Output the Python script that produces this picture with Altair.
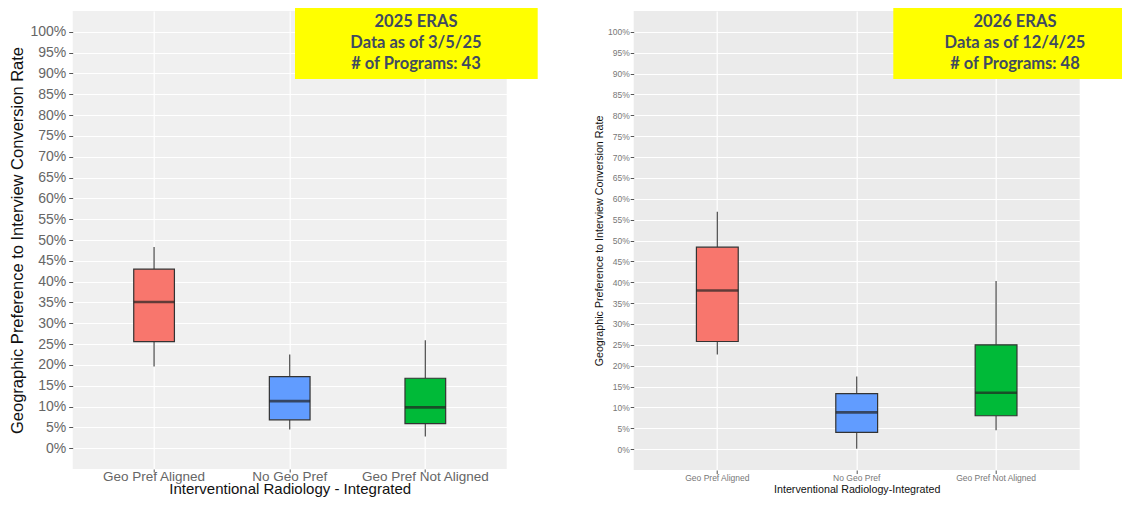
import altair as alt
import pandas as pd

categories = ["Geo Pref Aligned", "No Geo Pref", "Geo Pref Not Aligned"]
box_colors = ["#F8766D", "#619CFF", "#00BA38"]

# 2025 ERAS (left panel)
lo_2025 = [0.196, 0.045, 0.028]
q1_2025 = [0.256, 0.068, 0.059]
med_2025 = [0.351, 0.113, 0.098]
q3_2025 = [0.430, 0.172, 0.168]
hi_2025 = [0.483, 0.225, 0.259]
note_2025 = ["2025 ERAS", "Data as of 3/5/25", "# of Programs: 43"]

# 2026 ERAS (right panel)
lo_2026 = [0.227, 0.001, 0.045]
q1_2026 = [0.258, 0.040, 0.080]
med_2026 = [0.380, 0.088, 0.135]
q3_2026 = [0.484, 0.133, 0.250]
hi_2026 = [0.569, 0.174, 0.403]
note_2026 = ["2026 ERAS", "Data as of 12/4/25", "# of Programs: 48"]

y_ticks = [0.0, 0.05, 0.10, 0.15, 0.20, 0.25, 0.30, 0.35, 0.40, 0.45, 0.50,
           0.55, 0.60, 0.65, 0.70, 0.75, 0.80, 0.85, 0.90, 0.95, 1.0]

y_title = "Geographic Preference to Interview Conversion Rate"
FONT = "Liberation Sans"


def panel(lo, q1, med, q3, hi, note, x_title, w, h, bg,
          lab_fs, x_lab_fs, ttl_fs, x_ttl_fs, lab_color, y_lab_pad, y_ttl_pad,
          x_lab_pad, x_ttl_pad, y_tick, x_tick,
          box_x, box_x2, box_y, box_y2, note_x, note_y, note_fs, note_lh):
    df = pd.DataFrame({"cat": categories, "lo": lo, "q1": q1, "med": med,
                       "q3": q3, "hi": hi})
    xaxis = alt.Axis(title=x_title, labelAngle=0, bandPosition=0.5,
                     grid=True, gridColor="white", gridWidth=1.2,
                     domain=False, tickSize=x_tick, tickColor="#555",
                     labelFontSize=x_lab_fs, labelColor=lab_color, labelFont=FONT,
                     labelPadding=x_lab_pad, titleFont=FONT, titleFontSize=x_ttl_fs,
                     titleFontWeight="normal", titleColor="#111",
                     titlePadding=x_ttl_pad)
    xenc = alt.X("cat:N", sort=categories,
                 scale=alt.Scale(domain=categories, paddingInner=0, paddingOuter=0.1),
                 axis=xaxis)
    yscale = alt.Scale(domain=[-0.05, 1.05], nice=False, zero=False)
    yaxis = alt.Axis(values=y_ticks, format=".0%", title=y_title, labelOverlap=False,
                     grid=True, gridColor="white", gridWidth=1.2, domain=False,
                     tickSize=y_tick, tickColor="#555", labelPadding=y_lab_pad,
                     labelFontSize=lab_fs, labelColor=lab_color, labelFont=FONT,
                     titleFont=FONT, titleFontSize=ttl_fs, titleFontWeight="normal",
                     titleColor="#111", titlePadding=y_ttl_pad)
    base = alt.Chart(df)
    whisk_lo = base.mark_rule(color="#555", strokeWidth=1.3).encode(
        x=xenc, y=alt.Y("lo:Q", scale=yscale, axis=yaxis, title=y_title), y2="q1:Q")
    whisk_hi = base.mark_rule(color="#555", strokeWidth=1.3).encode(
        x=xenc, y=alt.Y("q3:Q", scale=yscale, axis=yaxis, title=y_title), y2="hi:Q")
    box = base.mark_bar(width=alt.RelativeBandSize(0.3), stroke="#333",
                        strokeWidth=1.2).encode(
        x=xenc, y=alt.Y("q1:Q", scale=yscale, axis=yaxis, title=y_title), y2="q3:Q",
        color=alt.Color("cat:N", scale=alt.Scale(domain=categories, range=box_colors),
                        legend=None))
    median = base.mark_tick(size=w * 0.3 / 3.2, thickness=2.6, color="#222").encode(
        x=xenc, y=alt.Y("med:Q", scale=yscale, axis=yaxis, title=y_title))
    one = alt.Chart(pd.DataFrame({"k": [0]}))
    note_box = one.mark_rect(color="#FFFF00").encode(
        x=alt.value(box_x), x2=alt.value(box_x2), y=alt.value(box_y), y2=alt.value(box_y2))
    note_txt = one.mark_text(font="Lato", fontWeight="bold", fontSize=note_fs,
                             lineHeight=note_lh, color="#404A60", align="center",
                             baseline="middle").encode(
        x=alt.value(note_x), y=alt.value(note_y), text=alt.value(note))
    return alt.layer(whisk_lo, whisk_hi, box, median, note_box, note_txt).properties(
        width=w, height=h,
        view=alt.ViewBackground(fill=bg, strokeWidth=0))


left = panel(lo_2025, q1_2025, med_2025, q3_2025, hi_2025, note_2025,
             "Interventional Radiology - Integrated", 434, 458, "#F0F0F0",
             14, 13.5, 16.5, 15, "#666", 3, 4, -3, -1.5, 4, 3,
             222.3, 465.0, -3, 68, 343.3, 10.7, 16.5, 21)
right = panel(lo_2026, q1_2026, med_2026, q3_2026, hi_2026, note_2026,
              "Interventional Radiology-Integrated", 446, 459, "#EBEBEB",
              8.5, 8.5, 10.7, 10.7, "#777", 1, 3, 0, 2, 3.5, 3.5,
              259.6, 497.3, -3, 68, 381.3, 10.7, 16.5, 21)

chart = alt.hconcat(left, right, spacing=55).properties(
    autosize=alt.AutoSizeParams(type="none"),
    padding={"left": 64.7, "top": 3, "right": 1049.3, "bottom": 487})

chart.save("out.html", embed_options={"renderer": "svg", "actions": False})
